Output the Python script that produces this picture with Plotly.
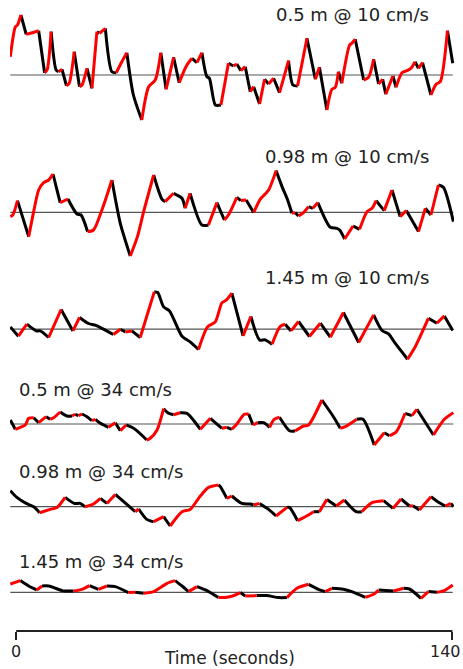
import plotly.graph_objects as go

# ---------------- data (time in seconds, displacement in arbitrary units) ----------------
labels = ["0.5 m @ 10 cm/s", "0.98 m @ 10 cm/s", "1.45 m @ 10 cm/s",
          "0.5 m @ 34 cm/s", "0.98 m @ 34 cm/s", "1.45 m @ 34 cm/s"]

t1 = [-1.9, -0.3, 0.4, 1.5, 3.2, 4.5, 7.2, 9.1, 9.9, 11.2, 12.8, 13.6, 14.7, 16.1, 17.0, 18.6, 20.3, 21.1, 22.7, 24.3,
      25.9, 26.7, 28.6, 30.7, 32.1, 33.9, 35.5, 37.6, 40.3, 42.5, 44.6, 46.4, 48.1, 50.5, 52.3, 54.6, 56.4, 58.0, 59.6, 61.2,
      62.0, 63.9, 65.7, 68.1, 69.7, 70.8, 72.1, 73.5, 75.1, 76.2, 78.1, 79.7, 81.0, 82.6, 84.5, 87.4, 88.8, 90.3, 93.3, 96.0,
      97.3, 99.7, 101.3, 102.4, 103.4, 104.5, 107.0, 107.7, 108.8, 111.5, 113.1, 114.7, 116.3, 117.6, 118.6, 120.9, 121.9,
      123.8, 125.4, 126.7, 128.0, 129.1, 130.4, 133.1, 134.8, 136.1, 138.4, 140.1]
v1 = [18.3, 48, 50, 60, 40.7, 41.7, 44.3, 2.3, 5, 43.3, 5, 3.3, 5.7, -10.7, -8.3, 23.3, -11.7, -10, 6.7, -13.3,
      43.3, 41.7, 46.7, 3.3, 2.3, 13.3, 22.3, -20, -45, -11.7, -5, 22.3, -14.3, 17.7, -7.7, 9, 16.7, 12.3, 22.3, -1.7,
      -3.3, -30, -30, 11.7, 9, 11, 4.3, 8.3, -16.7, -11.7, -29, -4.3, -9, -3.3, -17.7, 14.3, -10, -11, 36.7, -4.3,
      7.7, -35, -14.3, -12.3, 3.3, -8.3, 30, 31.7, 35.7, -5, -2.3, 15.7, -9, -4.3, -19.3, -1, -12.3,
      2.3, 4.3, 6.7, 13.3, 6.7, 12.3, -20, -9, -6.7, 44.3, 11.7]

t2 = [-1.9, -1.1, 0.4, 4.0, 5.6, 7.2, 8.8, 10.4, 11.8, 14.1, 16.6, 19.5, 20.8, 22.9, 24.8, 27.5, 30.7, 33.4, 36.6, 38.9,
      40.9, 44.1, 46.8, 47.8, 50.5, 53.2, 54.2, 55.8, 59.6, 61.7, 64.4, 66.8, 68.1, 70.8, 72.1, 73.8, 76.2, 78.3, 81.0, 83.4,
      85.3, 86.9, 88.5, 89.5, 90.6, 92.2, 93.8, 95.2, 96.8, 100.8, 102.9, 103.8, 105.4, 108.1, 110.2, 112.6, 114.2, 115.5,
      118.1, 120.6, 123.2, 125.2, 129.1, 131.3, 133.1, 135.5, 137.1, 140.3]
v2 = [-4.3, -2.7, 11.7, -24.3, 0.7, 22.3, 29.7, 32.3, 38.3, 9.7, 13.3, -1.7, -2.7, -19.3, -17.7, 2.3, 32.3, -11, -43.7, -24.3,
      0.7, 37.3, 13, 10.7, 19, 14, 4, 19, -12.7, -12.7, 9.7, -7.7, -2.7, 15, 11.7, 12.3, -0.3, 13, 22.3, 41.7,
      25.7, 14, -1, -0.3, -3.7, -0.3, 5.7, 4, 9.7, -15, -16, -17.7, -26.7, -13.7, -17, 0.7, 4, 11.7,
      1.7, 22.3, -4.3, 1.7, -19.3, 4, -2.7, 27.3, 25, -9.3]

t3 = [-1.9, 0.7, 3.4, 6.4, 7.7, 10.4, 14.4, 18.2, 20.3, 23.2, 25.4, 28.0, 31.2, 33.4, 35.0, 37.1, 39.8, 44.3, 45.4, 47.3,
      49.2, 53.2, 55.8, 58.5, 61.4, 63.9, 66.0, 67.4, 69.2, 72.8, 75.3, 78.1, 79.9, 82.1, 84.7, 86.3, 88.2, 90.6, 94.1, 97.6,
      100.8, 105.0, 109.9, 114.7, 117.4, 119.5, 121.6, 125.6, 128.1, 132.3, 135.0, 137.4, 140.1]
v3 = [2.3, -7, 5, -1.7, -1.7, -8.3, 19.7, -1.7, 11.7, 5.7, 4, 0, -5.3, 0, -2.7, -1.7, -8.3, 37.3, 36.7, 22.3,
      18.3, -7, -12.7, -20.3, 2.3, 7.3, 26.3, 29, 36, -6.7, 12.7, -10.7, -10.7, -15, 2.7, 5, -1.7, 7.7, -7.3, 6,
      -8, 16.7, -13.3, 14.3, -1.3, -4.7, -14, -30, -17.3, 11, 6, 13.3, -1.3]

t4 = [-1.9, -0.3, 1.3, 2.9, 4.0, 5.6, 7.2, 9.6, 10.9, 12.0, 14.1, 16.3, 17.9, 18.9, 20.0, 21.1, 22.7, 24.3, 25.4, 27.0,
      29.6, 31.8, 33.4, 35.3, 37.1, 38.7, 41.9, 43.0, 45.2, 47.3, 48.9, 50.5, 52.6, 54.8, 59.1, 62.3, 66.0, 67.6, 69.2, 70.8,
      73.2, 74.6, 76.0, 77.4, 79.4, 81.3, 82.8, 84.5, 87.7, 89.5, 92.2, 93.8, 98.1, 101.8, 104.0, 105.6, 109.3, 111.3,
      114.9, 118.1, 119.8, 122.0, 124.8, 127.0, 128.6, 133.9, 137.4, 140.3]
v4 = [4, -5.3, -3.3, -1, 5.7, 6.3, 1.3, 7.3, 4.7, 6.3, 12, 8, 8, 9.7, 8.3, 10, 7.3, 3.3, 4.7, 0.7,
      -3.3, 1.3, -6.7, -1, -3.3, -6.7, -16, -14.3, -6, 15.3, 10.7, 9.3, 11.3, 10.7, -5.3, 5.7, -4.3, -3.3, -5.3, 0,
      9.7, 10, -1, 1.3, 1.3, -3.3, 4.7, 6.7, -6.7, -7, -2, -1, 24, 7.3, -4.3, -2.7, 4.7, 4.7,
      -21, -8.7, -11.7, -7.7, 10.7, 8.3, 14.7, -11, 4.7, 11.3]

t5 = [-1.9, 0.2, 3.2, 5.6, 7.5, 10.9, 13.1, 15.7, 18.6, 20.5, 22.1, 24.8, 27.0, 29.1, 31.8, 38.2, 39.3, 41.9, 44.1, 47.3,
      49.4, 53.2, 55.8, 59.1, 61.7, 64.9, 65.5, 67.6, 69.2, 72.4, 75.1, 76.2, 78.1, 81.0, 83.4, 86.9, 87.7, 90.3, 93.8, 95.4,
      97.3, 99.7, 102.7, 105.3, 109.1, 110.9, 114.2, 117.9, 120.9, 123.5, 126.2, 127.3, 129.4, 133.1, 135.8, 137.7, 139.5, 140.3]
v5 = [16, 9.3, 3.3, 0, -6, -2.7, -0.7, 9.3, 3.3, 3.3, 0, 2.7, 8.3, 3.3, 12.3, -5, -2.3, -12.7, -15, -10,
      -19.3, -5, -2.7, 10.7, 19.3, 21.7, 20, 8.3, 10.7, 3.3, 2.7, 1.7, 3.3, -2.7, -9.3, -0.7, -0.7, -14, -8.3, -5,
      -5, 7.3, 0.7, 6.7, -5, -5, 4, 6, -1.7, 7.7, 0.7, 1, -3.3, 10, 4, 0.7, 3.3, 0]

t6 = [-1.9, 1.3, 4.0, 6.6, 8.3, 10.4, 14.7, 15.7, 18.4, 21.1, 23.5, 26.4, 29.1, 31.8, 36.0, 38.2, 40.9, 44.1, 48.4, 51.0,
      53.2, 55.3, 58.0, 61.2, 64.9, 67.6, 70.3, 71.9, 73.5, 77.2, 80.4, 84.2, 86.9, 90.1, 93.8, 97.0, 99.2, 101.3, 105.0, 107.7,
      112.0, 114.7, 116.3, 121.1, 124.3, 126.2, 129.9, 132.3, 135.0, 137.4, 140.1]
v6 = [8.3, 11.7, 6.3, 2.3, 6.3, 6.3, 1.7, 1.3, 1.3, 3, 6.7, 3, 6.3, 5.7, -0.3, 0, -1, 0.7, 9, 11.7,
      6.3, 0.7, 5.7, 1.7, -5.3, -5, -2.7, -0.3, -3.7, -3.3, -3.3, -5.3, -5.3, 4, 8, 3, 0.7, 4, 3, 0.7,
      -5, -2, 2.3, 1.3, 4, 3.3, -6, 0.7, 0, 1.7, 7.3]

x_ticks = [0, 140]
x_title = "Time (seconds)"

# ---------------- layout constants ----------------
W, H = 463, 669
M_L, M_R, M_T, M_B = 10, 9, 0, 38
PLOT_H = H - M_T - M_B
X_RANGE = [-2, 140.5]
row_offsets = [75, 212.3, 329.2, 424, 506.7, 592.3]       # vertical position of each row's zero line
label_side = ["right", "right", "right", "left", "left", "left"]
label_dy = [61, 56, 51.5, 35, 35.7, 31.3]                  # label centre above the zero line
tick_label_x = [0, 137.9]                                   # centres of the tick label texts
TICK_LABEL_Y, TITLE_Y = 651, 658                             # page pixel rows of bottom texts
RED, BLACK = "#ff0000", "#000000"
FONT = "DejaVu Sans"
TXT = "#222222"


def paper_y(pix):
    return (PLOT_H - pix) / PLOT_H


series = [(t1, v1), (t2, v2), (t3, v3), (t4, v4), (t5, v5), (t6, v6)]

fig = go.Figure()
shapes = []
annotations = []

for k, (ts, vs) in enumerate(series):
    off = row_offsets[k]
    # zero line
    shapes.append(dict(type="line", xref="x", yref="y", x0=ts[0], x1=ts[-1], y0=-off, y1=-off,
                       line=dict(color="#555555", width=1.2), layer="below"))
    # split into rising (red) and falling (black) runs
    runs = {RED: ([], []), BLACK: ([], [])}
    prev_col = None
    for i in range(len(ts) - 1):
        col = RED if vs[i + 1] > vs[i] else BLACK
        xs, ys = runs[col]
        if col != prev_col:
            if xs:
                xs.append(None); ys.append(None)
            xs.append(ts[i]); ys.append(vs[i] - off)
        xs.append(ts[i + 1]); ys.append(vs[i + 1] - off)
        prev_col = col
    for col in (BLACK, RED):
        xs, ys = runs[col]
        fig.add_trace(go.Scatter(x=xs, y=ys, mode="lines", name=labels[k], showlegend=False,
                                 line=dict(color=col, width=3, shape="spline", smoothing=0.7),
                                 hoverinfo="skip", connectgaps=False))
    # label
    right = label_side[k] == "right"
    annotations.append(dict(x=133.0 if right else 0.1, y=-(off - label_dy[k]), xref="x", yref="y",
                            text=labels[k], xanchor="right" if right else "left", yanchor="middle",
                            showarrow=False, font=dict(family=FONT, size=18, color=TXT)))

# axis line between 0 and 140
shapes.append(dict(type="line", xref="x", yref="paper", x0=x_ticks[0], x1=x_ticks[-1], y0=0, y1=0,
                   line=dict(color=TXT, width=2)))

# tick labels
for tv, tx in zip(x_ticks, tick_label_x):
    annotations.append(dict(x=tx, y=paper_y(TICK_LABEL_Y), xref="x", yref="paper", text=str(tv),
                            xanchor="center", yanchor="middle", showarrow=False,
                            font=dict(family=FONT, size=16, color=TXT)))

annotations.append(dict(x=68.6, y=paper_y(TITLE_Y), xref="x", yref="paper", text=x_title,
                        xanchor="center", yanchor="middle", showarrow=False,
                        font=dict(family=FONT, size=17, color=TXT)))

fig.update_layout(
    width=W, height=H, autosize=False, template="none",
    margin=dict(l=M_L, r=M_R, t=M_T, b=M_B, pad=0),
    paper_bgcolor="white", plot_bgcolor="white",
    shapes=shapes, annotations=annotations,
    xaxis=dict(range=X_RANGE, showgrid=False, zeroline=False, showline=False, automargin=False,
               tickmode="array", tickvals=x_ticks, showticklabels=False,
               ticks="outside", ticklen=8, tickwidth=2, tickcolor=TXT),
    yaxis=dict(range=[-PLOT_H, 0], showgrid=False, zeroline=False, showline=False, automargin=False,
               showticklabels=False, ticks=""),
)

fig.write_html("out.html", config={"displayModeBar": False},
               post_script="document.body.style.margin='0';document.body.style.overflow='hidden';")
